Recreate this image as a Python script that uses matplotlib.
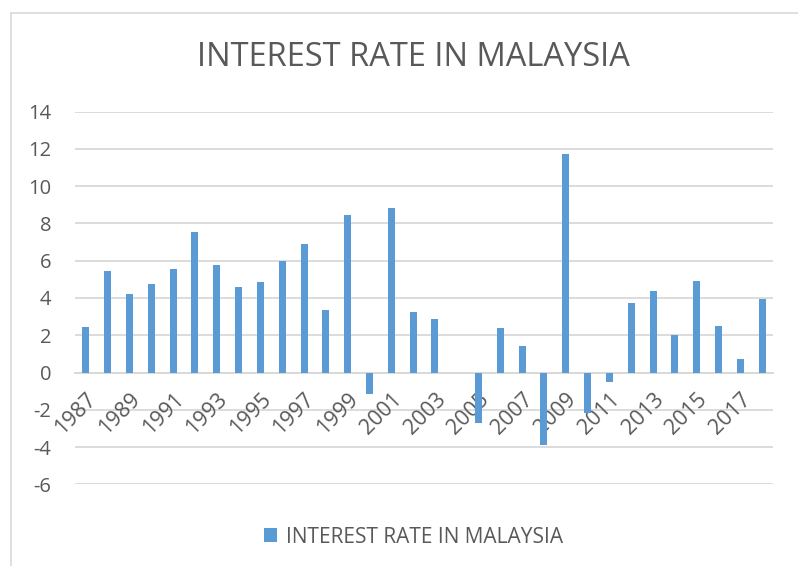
import matplotlib
matplotlib.use("Agg")
import matplotlib.pyplot as plt
from matplotlib.patches import Patch
from matplotlib.lines import Line2D

# data
years = list(range(1987, 2019))
rates = [2.45, 5.45, 4.22, 4.77, 5.54, 7.53, 5.79, 4.61, 4.88, 6.01,
         6.88, 3.33, 8.48, -1.13, 8.81, 3.27, 2.88, 0.0, -2.70, 2.38,
         1.41, -3.90, 11.75, -2.15, -0.50, 3.72, 4.40, 2.04, 4.93, 2.52,
         0.73, 3.97]
tick_years = [str(y) for y in years]
y_ticks = list(range(-6, 15, 2))

TITLE = "INTEREST RATE IN MALAYSIA"
BAR_COLOR = "#5B9BD5"
TEXT_COLOR = "#595959"
GRID_COLOR = "#D9D9D9"

plt.rcParams["font.family"] = ["Open Sans", "DejaVu Sans"]

fig = plt.figure(figsize=(7.98, 5.66), dpi=100)
ax = fig.add_axes([0.094, 0.1443, 0.8747, 0.6584])

x = list(range(len(years)))
ax.bar(x, rates, width=0.32, color=BAR_COLOR, zorder=3)

ax.set_xlim(-0.5, len(years) - 0.5)
ax.set_ylim(-6, 14)
ax.set_yticks(y_ticks)
ax.set_yticklabels([str(v) for v in y_ticks])
ax.yaxis.grid(True, color=GRID_COLOR, linewidth=1.3)

# category labels sit on the zero line, every other year shown
ax.spines["bottom"].set_position(("data", 0))
ax.spines["bottom"].set_color(GRID_COLOR)
ax.spines["bottom"].set_linewidth(1.3)
for s in ["top", "right", "left"]:
    ax.spines[s].set_visible(False)

ax.set_xticks(x[::2])
ax.set_xticklabels(tick_years[::2], rotation=45, ha="right", va="top",
                   rotation_mode="anchor")
ax.tick_params(axis="x", length=0, pad=12, labelsize=15.5, labelcolor=TEXT_COLOR)
ax.tick_params(axis="y", length=0, pad=17, labelsize=14.5, labelcolor=TEXT_COLOR)

# gridlines at the back, year labels over them, bars on top
ax.yaxis.set_zorder(1)
ax.xaxis.set_zorder(2)

fig.text(0.518, 0.899, TITLE, ha="center", va="center", fontsize=23.5,
         color=TEXT_COLOR)

handles = [Patch(facecolor=BAR_COLOR, edgecolor="none")]
fig.legend(handles, [TITLE], loc="center", bbox_to_anchor=(0.518, 0.051),
           frameon=False, fontsize=15, labelcolor=TEXT_COLOR,
           handlelength=0.65, handleheight=0.65, handletextpad=0.4)

# chart border (only left and top edges visible in the crop)
fig.add_artist(Line2D([11 / 798, 11 / 798], [0, 1 - 13 / 566],
                      color=GRID_COLOR, linewidth=1.2))
fig.add_artist(Line2D([11 / 798, 1], [1 - 13 / 566, 1 - 13 / 566],
                      color=GRID_COLOR, linewidth=1.2))

fig.savefig("out.png", dpi=100)
